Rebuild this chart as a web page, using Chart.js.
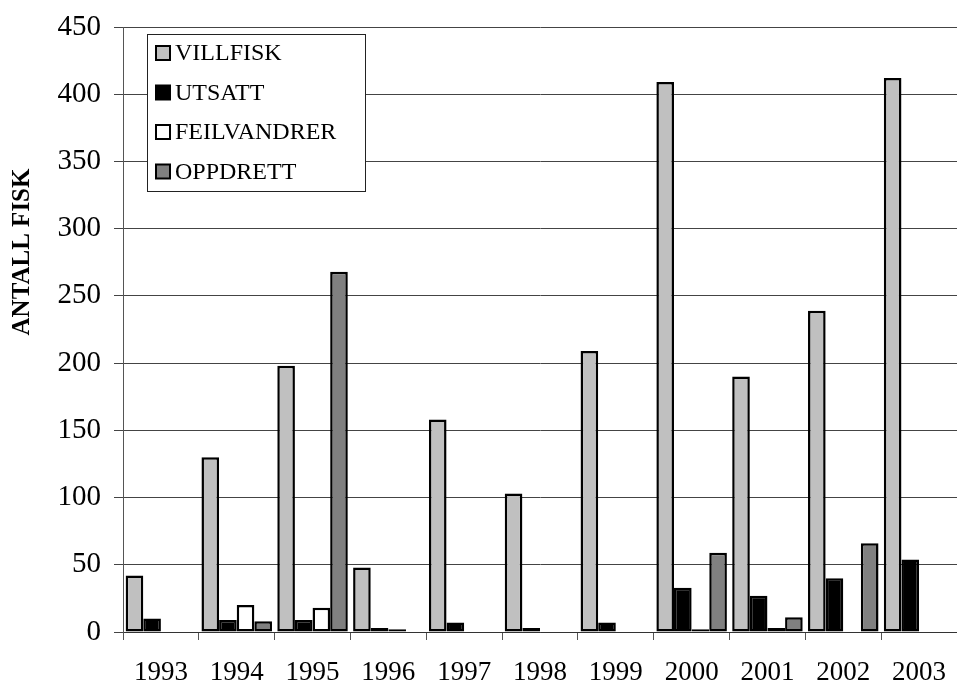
<!DOCTYPE html>
<html>
<head>
<meta charset="utf-8">
<script src="https://cdn.jsdelivr.net/npm/chart.js@4.4.1/dist/chart.umd.min.js"></script>
<style>
    html, body { margin: 0; padding: 0; background: #fff; }
    #wrap { width: 957px; height: 684px; }
</style>
</head>
<body>
<div id="wrap"><canvas id="fiskChart"></canvas></div>
<script>
// år og antall fisk per kategori (lest av figuren)
const years = ["1993", "1994", "1995", "1996", "1997", "1998", "1999", "2000", "2001", "2002", "2003"];
const villfisk    = [42, 130, 198, 48, 158, 103, 209, 409, 190, 239, 412];
const utsatt      = [10, 9, 9, 3, 7, 3, 7, 33, 27, 40, 54];
const feilvandrer = [0, 20, 18, 2, 0, 0, 0, 2, 3, 0, 0];
const oppdrett    = [0, 8, 268, 0, 0, 0, 0, 59, 11, 66, 0];
const yTicks = [0, 50, 100, 150, 200, 250, 300, 350, 400, 450];
const yTitle = "ANTALL FISK";

const FONT = "'Liberation Serif', 'Times New Roman', serif";

// legend med ramme, tegnet inne i plottet
const boxLegend = {
    id: "boxLegend",
    afterDatasetsDraw(chart, args, opts) {
        const ctx = chart.ctx;
        ctx.save();
        ctx.fillStyle = "#fff";
        ctx.fillRect(opts.x, opts.y, opts.w, opts.h);
        ctx.strokeStyle = "#222";
        ctx.lineWidth = 1;
        ctx.strokeRect(opts.x + 0.5, opts.y + 0.5, opts.w, opts.h);
        ctx.font = opts.size + "px " + FONT;
        ctx.textBaseline = "middle";
        chart.data.datasets.forEach((ds, i) => {
            const cy = opts.y + 19 + i * 39.5;
            ctx.fillStyle = ds.backgroundColor;
            ctx.fillRect(opts.x + 9, cy - 7, 14, 14);
            ctx.strokeStyle = "#000";
            ctx.lineWidth = 2;
            ctx.strokeRect(opts.x + 9, cy - 7, 14, 14);
            ctx.fillStyle = "#000";
            ctx.fillText(ds.label, opts.x + 28, cy + 1);
        });
        ctx.restore();
    }
};

// y-aksetittel (litt over midten, som i originalen)
const sideTitle = {
    id: "sideTitle",
    afterDraw(chart) {
        const ctx = chart.ctx;
        ctx.save();
        ctx.translate(23, 252);
        ctx.rotate(-Math.PI / 2);
        ctx.font = "bold 25px " + FONT;
        ctx.fillStyle = "#000";
        ctx.textAlign = "center";
        ctx.textBaseline = "middle";
        ctx.fillText(yTitle, 0, 0);
        ctx.restore();
    }
};

function makeSet(label, data, color) {
    return {
        label: label,
        data: data,
        backgroundColor: color,
        borderColor: "#000",
        borderWidth: 2.5,
        borderSkipped: false,
        categoryPercentage: 0.93,
        barPercentage: 1.0
    };
}

new Chart(document.getElementById("fiskChart"), {
    type: "bar",
    data: {
        labels: years,
        datasets: [
            makeSet("VILLFISK", villfisk, "#c0c0c0"),
            makeSet("UTSATT", utsatt, "#000000"),
            makeSet("FEILVANDRER", feilvandrer, "#ffffff"),
            makeSet("OPPDRETT", oppdrett, "#808080")
        ]
    },
    options: {
        responsive: true,
        maintainAspectRatio: false,
        animation: false,
        layout: { padding: { top: 27, right: 0, bottom: 0, left: 0 } },
        plugins: {
            legend: { display: false },
            tooltip: { enabled: false },
            boxLegend: { x: 147, y: 34, w: 218, h: 157, size: 24 }
        },
        scales: {
            x: {
                offset: true,
                grid: {
                    offset: true,
                    drawOnChartArea: false,
                    drawTicks: true,
                    tickLength: 8,
                    color: "#555"
                },
                border: { color: "#333", width: 1 },
                ticks: {
                    color: "#000",
                    font: { family: FONT, size: 27 },
                    padding: 17,
                    maxRotation: 0
                },
                afterFit(scale) {
                    scale.height = 52;
                    scale.paddingLeft = 0;
                    scale.paddingRight = 0;
                }
            },
            y: {
                min: 0,
                max: 450,
                afterBuildTicks(scale) {
                    scale.ticks = yTicks.map(v => ({ value: v }));
                },
                grid: {
                    color: "#444",
                    lineWidth: 1,
                    tickLength: 9
                },
                border: { color: "#555", width: 1 },
                ticks: {
                    color: "#000",
                    font: { family: FONT, size: 29 },
                    padding: 13
                },
                afterFit(scale) {
                    scale.width = 123;
                    scale.paddingTop = 0;
                    scale.paddingBottom = 0;
                }
            }
        }
    },
    plugins: [boxLegend, sideTitle]
});
</script>
</body>
</html>
